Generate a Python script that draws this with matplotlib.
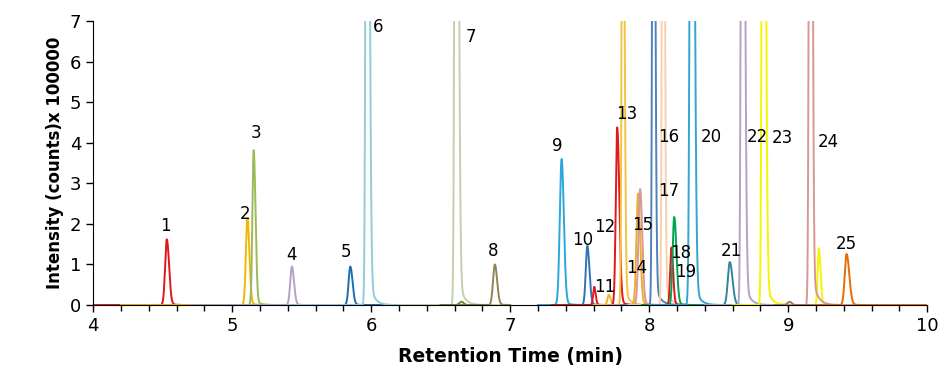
import numpy as np
import matplotlib.pyplot as plt

# peak table (off-scale peaks get an estimated apex)
colors = ["#e0161c", "#f2b705", "#9bbb59", "#b3a2c7", "#1f6db5", "#92cddc",
          "#c4cfaf", "#8f8455", "#6b8a3a", "#2aa7dc", "#2e75b6", "#e0161c",
          "#f0b323", "#e0161c", "#f5c342", "#f0ad2e", "#d59a9a", "#4f81bd",
          "#f9cfb0", "#e0161c", "#00a550", "#31a7d0", "#31859c", "#b3a2c7",
          "#f5f500", "#f5f500", "#d99694", "#a08060", "#e46c0a"]
rt = [4.53, 5.11, 5.155, 5.43, 5.85, 5.97,
      6.61, 6.89, 6.65, 7.37, 7.555, 7.605,
      7.71, 7.77, 7.81, 7.92, 7.935, 8.03,
      8.10, 8.16, 8.18, 8.305, 8.58, 8.67,
      8.82, 9.22, 9.16, 9.01, 9.42]
height = [1.62, 2.14, 3.82, 0.95, 0.95, 25,
          30, 1.0, 0.08, 3.6, 1.46, 0.45,
          0.25, 4.38, 15, 2.75, 2.86, 20,
          20, 1.42, 2.17, 25, 1.06, 25,
          25, 1.4, 30, 0.08, 1.26]
sig_left = [0.012, 0.011, 0.009, 0.012, 0.012, 0.008,
            0.008, 0.013, 0.015, 0.013, 0.011, 0.008,
            0.010, 0.010, 0.007, 0.012, 0.012, 0.007,
            0.007, 0.009, 0.011, 0.010, 0.014, 0.008,
            0.008, 0.008, 0.008, 0.015, 0.013]
sig_right = [0.016, 0.014, 0.013, 0.015, 0.016, 0.014,
             0.014, 0.016, 0.015, 0.016, 0.015, 0.010,
             0.012, 0.015, 0.011, 0.015, 0.015, 0.011,
             0.010, 0.012, 0.016, 0.016, 0.019, 0.014,
             0.014, 0.012, 0.011, 0.015, 0.019]
win_start = [4.0, 4.2, 4.9, 4.7, 5.6, 5.4,
             6.2, 6.5, 6.5, 7.2, 7.35, 7.3,
             7.5, 7.5, 7.6, 7.7, 7.7, 7.8,
             7.85, 7.95, 7.95, 8.0, 8.35, 8.4,
             8.6, 9.0, 8.9, 8.9, 9.2]
win_end = [4.7, 5.4, 5.6, 5.9, 6.2, 6.5,
           7.0, 7.0, 6.8, 7.7, 7.8, 7.8,
           7.9, 8.0, 8.1, 8.2, 8.2, 8.3,
           8.3, 8.4, 8.4, 8.6, 8.8, 8.9,
           9.1, 9.6, 9.5, 9.3, 10.0]

labels = [str(i) for i in range(1, 26)]
label_x = [4.52, 5.09, 5.17, 5.43, 5.82, 6.05, 6.72, 6.88, 7.34, 7.52,
           7.68, 7.68, 7.84, 7.91, 7.95, 8.14, 8.14, 8.23, 8.26, 8.45,
           8.59, 8.78, 8.96, 9.29, 9.42]
label_y = [1.95, 2.24, 4.24, 1.23, 1.3, 6.85, 6.6, 1.33, 3.92, 1.6,
           0.44, 1.92, 4.7, 0.91, 1.97, 4.14, 2.8, 1.28, 0.81, 4.14,
           1.33, 4.14, 4.11, 4.01, 1.5]

TAIL_FRAC = 0.035
TAIL_TAU = 0.035


def peak(t, r, h, sl, sr):
    s = np.where(t < r, sl, sr)
    core = h * np.exp(-0.5 * ((t - r) / s) ** 2)
    tail = np.where(t > r, h * TAIL_FRAC * np.exp(-(t - r) / TAIL_TAU), 0)
    return np.maximum(core, core + tail * (1 - np.exp(-((t - r) / sr) ** 2)))


fig, ax = plt.subplots(figsize=(9.5, 3.78), dpi=100)
fig.subplots_adjust(left=0.098, right=0.976, bottom=0.193, top=0.944)

for i in range(len(rt)):
    t = np.linspace(win_start[i], win_end[i], 1500)
    ax.plot(t, peak(t, rt[i], height[i], sig_left[i], sig_right[i]),
            color=colors[i], lw=1.4)

for lab, lx, ly in zip(labels, label_x, label_y):
    ax.text(lx, ly, lab, ha="center", va="center", fontsize=12)

ax.set_xlim(4, 10)
ax.set_ylim(0, 7)
ax.set_xticks(range(4, 11))
ax.set_xticks(np.arange(4, 10.01, 0.2), minor=True)
ax.set_yticks(range(0, 8))
ax.tick_params(axis="both", direction="out", labelsize=13, length=5, width=1)
ax.tick_params(axis="x", which="minor", length=4, width=1)
ax.spines["top"].set_visible(False)
ax.spines["right"].set_visible(False)
ax.set_xlabel("Retention Time (min)", fontsize=13.5, fontweight="bold", labelpad=9)
ax.set_ylabel("Intensity (counts)x 100000", fontsize=12, fontweight="bold")

fig.savefig("out.png", dpi=100)
